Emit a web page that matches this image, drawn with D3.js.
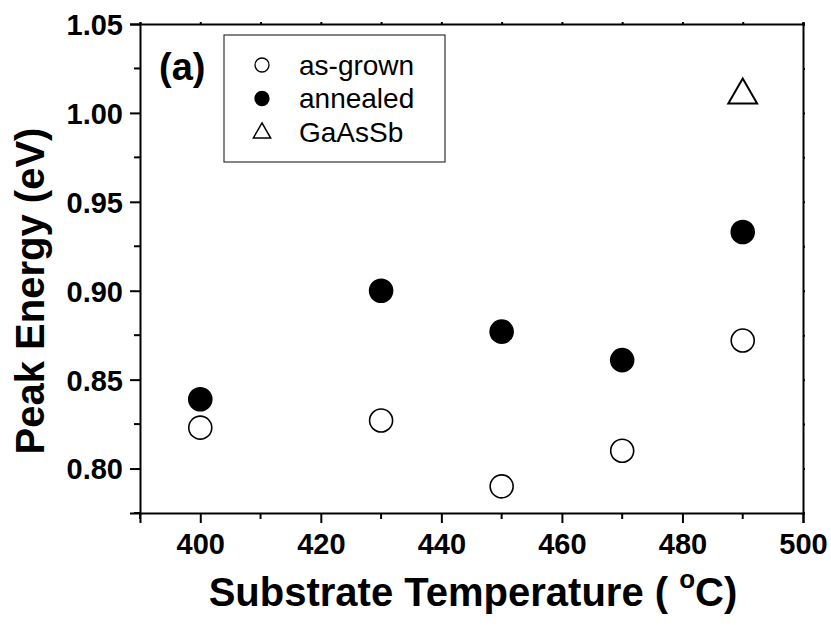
<!DOCTYPE html>
<html>
<head>
<meta charset="utf-8">
<script src="https://cdn.jsdelivr.net/npm/d3@7/dist/d3.min.js"></script>
<style>
  body { margin: 0; background: #fff; }
  text { font-family: Arial, "Liberation Sans", sans-serif; }
</style>
</head>
<body>
<div id="chart"></div>
<script>
// data
var temps = [400, 430, 450, 470, 490]
var asGrown = [0.823, 0.827, 0.790, 0.810, 0.872]
var annealed = [0.839, 0.900, 0.877, 0.861, 0.933]
var gaAsSbTemp = [490]
var gaAsSb = [1.010]
var xTicks = [400, 420, 440, 460, 480, 500]
var yTicks = [0.80, 0.85, 0.90, 0.95, 1.00, 1.05]
var legendNames = ['as-grown', 'annealed', 'GaAsSb']

var W = 831, H = 637
var margin = {top: 24, left: 140, right: 28, bottom: 124}
var width = W - margin.left - margin.right,
    height = H - margin.top - margin.bottom

var svg = d3.select('#chart').append('svg')
  .attr('width', W).attr('height', H)

var g = svg.append('g')
  .attr('transform', 'translate(' + margin.left + ',' + margin.top + ')')

var x = d3.scaleLinear().domain([390, 500]).range([0, width])
var y = d3.scaleLinear().domain([0.775, 1.05]).range([height, 0])

// minor ticks
var xMinor = [390, 410, 430, 450, 470, 490]
var yMinor = [0.775, 0.825, 0.875, 0.925, 0.975, 1.025]

// bottom axis
var xAxis = g.append('g').attr('transform', 'translate(0,' + height + ')')
  .call(d3.axisBottom(x).tickValues(xTicks).tickSize(10).tickPadding(10).tickFormat(d3.format('d')))
xAxis.append('g').selectAll('line').data(xMinor).enter().append('line')
  .attr('x1', function(d) { return x(d) }).attr('x2', function(d) { return x(d) })
  .attr('y1', 0).attr('y2', 6)

// left axis
var yAxis = g.append('g')
  .call(d3.axisLeft(y).tickValues(yTicks).tickSize(10).tickPadding(7).tickFormat(d3.format('.2f')))
yAxis.append('g').selectAll('line').data(yMinor).enter().append('line')
  .attr('y1', function(d) { return y(d) }).attr('y2', function(d) { return y(d) })
  .attr('x1', 0).attr('x2', -6)

// top and right axes with small ticks
g.append('g')
  .call(d3.axisTop(x).tickValues(xMinor.concat(xTicks)).tickSize(2).tickFormat(''))
g.append('g').attr('transform', 'translate(' + width + ',0)')
  .call(d3.axisRight(y).tickValues(yMinor.concat(yTicks)).tickSize(2).tickFormat(''))

g.selectAll('.domain').attr('stroke', '#000').attr('stroke-width', 2)
g.selectAll('g line').attr('stroke', '#000').attr('stroke-width', 2)
xAxis.selectAll('text').attr('font-size', 29).attr('font-weight', 'bold').attr('fill', '#000')
  .attr('font-family', 'Arial, "Liberation Sans", sans-serif')
yAxis.selectAll('text').attr('font-size', 29).attr('font-weight', 'bold').attr('fill', '#000')
  .attr('font-family', 'Arial, "Liberation Sans", sans-serif').attr('dy', '0.36em')

// axis titles
var xt = svg.append('text')
  .attr('x', 473).attr('y', 606)
  .attr('text-anchor', 'middle').attr('font-size', 40).attr('font-weight', 'bold')
xt.append('tspan').text('Substrate Temperature ( ')
xt.append('tspan').attr('font-size', 26).attr('dy', -18).text('o')
xt.append('tspan').attr('dy', 18).text('C)')

svg.append('text')
  .attr('transform', 'translate(44,291) rotate(-90)')
  .attr('text-anchor', 'middle').attr('font-size', 40).attr('font-weight', 'bold')
  .text('Peak Energy (eV)')

// panel label
g.append('text').attr('x', 19).attr('y', 56)
  .attr('font-size', 38).attr('font-weight', 'bold').text('(a)')

// markers
var r = 11.5
g.selectAll('.asgrown').data(temps).enter().append('circle')
  .attr('class', 'asgrown')
  .attr('cx', function(d) { return x(d) })
  .attr('cy', function(d, i) { return y(asGrown[i]) })
  .attr('r', r).attr('fill', '#fff').attr('stroke', '#000').attr('stroke-width', 1.6)

g.selectAll('.annealed').data(temps).enter().append('circle')
  .attr('class', 'annealed')
  .attr('cx', function(d) { return x(d) })
  .attr('cy', function(d, i) { return y(annealed[i]) })
  .attr('r', r).attr('fill', '#000').attr('stroke', '#000').attr('stroke-width', 1.6)

var tri = d3.symbol().type(d3.symbolTriangle).size(360)
g.selectAll('.gaassb').data(gaAsSbTemp).enter().append('path')
  .attr('class', 'gaassb')
  .attr('d', tri)
  .attr('transform', function(d, i) { return 'translate(' + x(d) + ',' + y(gaAsSb[i]) + ')' })
  .attr('fill', '#fff').attr('stroke', '#000').attr('stroke-width', 2)

// legend
var leg = svg.append('g').attr('transform', 'translate(224,35)')
leg.append('rect').attr('width', 221).attr('height', 127)
  .attr('fill', '#fff').attr('stroke', '#333').attr('stroke-width', 1.2)

var rows = leg.selectAll('.row').data(legendNames).enter().append('g')
  .attr('transform', function(d, i) { return 'translate(0,' + (30 + i * 33.5) + ')' })
rows.append('text').attr('x', 75).attr('dy', '0.35em')
  .attr('font-size', 28).text(function(d) { return d })
rows.filter(function(d, i) { return i < 2 }).append('circle')
  .attr('cx', 38).attr('r', 7)
  .attr('fill', function(d, i) { return i === 0 ? '#fff' : '#000' })
  .attr('stroke', '#000').attr('stroke-width', 1.3)
rows.filter(function(d, i) { return i === 2 }).append('path')
  .attr('d', d3.symbol().type(d3.symbolTriangle).size(130))
  .attr('transform', 'translate(38,1)')
  .attr('fill', '#fff').attr('stroke', '#000').attr('stroke-width', 1.5)
</script>
</body>
</html>
